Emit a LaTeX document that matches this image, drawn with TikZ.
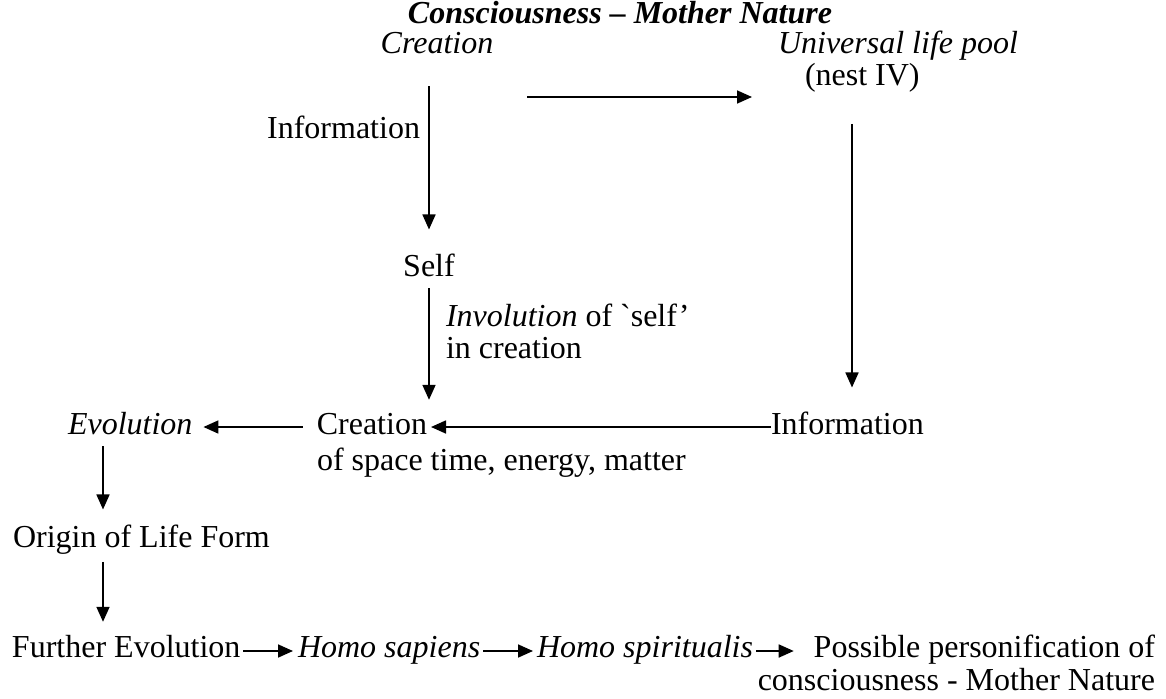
\documentclass[tikz,border=0pt]{standalone}
\usepackage{fontspec}
\setmainfont{Liberation Serif}
\font\gravefont="Liberation Serif" at 32pt
\usetikzlibrary{arrows.meta}
\begin{document}
\begin{tikzpicture}[x=1pt,y=-1pt,
  txt/.style={inner sep=0pt,outer sep=0pt,font=\fontsize{32}{36}\selectfont},
  itxt/.style={txt,font=\fontsize{32}{36}\selectfont\itshape},
  arr/.style={line width=1.7pt,-{Triangle[length=15pt,width=13pt]}}]
\useasboundingbox (0,0) rectangle (1166,698);
% top
\node[txt,font=\fontsize{32}{36}\selectfont\bfseries\itshape,anchor=base] (title) at (620,24) {Consciousness -- Mother Nature};
\node[itxt,anchor=base] (cre1) at (437,54) {Creation};
\node[itxt,anchor=base west] (ulp) at (778,54) {Universal life pool};
\node[txt,anchor=base west] (nest) at (805,86) {(nest IV)};
\coordinate (ta) at (527,97);
\coordinate (tb) at (752,97);
\draw[arr] (ta) -- (tb);
\node[txt,anchor=base east] (info1) at (420,138) {Information};
\node[txt,anchor=base] (self) at (429,276) {Self};
\node[txt,anchor=base west] (inv1) at (446,326) {\emph{Involution} of {\gravefont `}self'};
\node[txt,anchor=base west] (inv2) at (446,358) {in creation};
% middle row
\node[txt,anchor=base east] (cre2) at (427,434) {Creation};
\node[txt,anchor=base west] (space) at (317,470) {of space time, energy, matter};
\node[txt,anchor=base west] (info2) at (771,434) {Information};
\node[itxt,anchor=base west] (evo) at (68,434) {Evolution};
\node[txt,anchor=base west] (origin) at (13,547) {Origin of Life Form};
% bottom row
\node[txt,anchor=base west] (further) at (12,657) {Further Evolution};
\node[itxt,anchor=base west] (hs) at (298,657) {Homo sapiens};
\node[itxt,anchor=base west] (hsp) at (537,657) {Homo spiritualis};
\node[txt,anchor=base east] (poss1) at (1155,657) {Possible personification of};
\node[txt,anchor=base east] (poss2) at (1155,690) {consciousness - Mother Nature};
% connectors
\draw[arr,shorten <=32pt,shorten >=24pt] (self.north |- cre1.south) -- (self.north);
\draw[arr,shorten <=12pt,shorten >=13pt] (self.south) -- (self.south |- cre2.north);
\draw[arr,shorten <=31pt,shorten >=24pt] (nest.south -| 852,0) -- (info2.north -| 852,0);
\draw[arr,shorten >=4pt] (info2.west |- 0,427) -- (cre2.east |- 0,427);
\draw[arr,shorten <=14pt,shorten >=11pt] (cre2.west |- 0,427) -- (evo.east |- 0,427);
\draw[arr,shorten <=12pt,shorten >=15pt] (evo.south -| 103,0) -- (origin.north -| 103,0);
\draw[arr,shorten <=8pt,shorten >=13pt] (origin.south -| 103,0) -- (further.north -| 103,0);
\draw[arr,shorten <=3pt,shorten >=5pt] (further.east |- 0,651) -- (hs.west |- 0,651);
\draw[arr,shorten <=3pt,shorten >=4pt] (hs.east |- 0,651) -- (hsp.west |- 0,651);
\draw[arr,shorten <=3pt,shorten >=20pt] (hsp.east |- 0,651) -- (poss1.west |- 0,651);
\end{tikzpicture}
\end{document}
